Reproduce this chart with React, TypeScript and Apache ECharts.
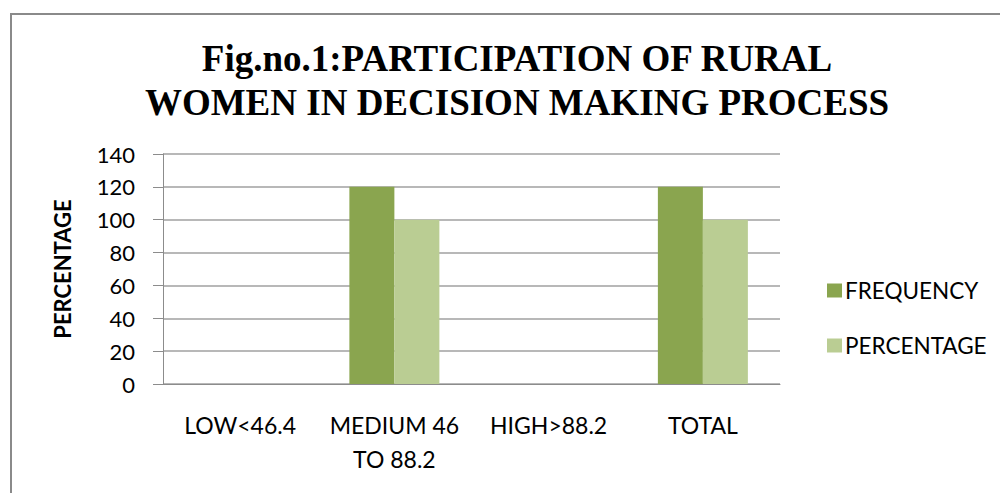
import React, { useEffect, useRef } from "react";
import * as echarts from "echarts";

const categories = ["LOW<46.4", "MEDIUM 46\nTO 88.2", "HIGH>88.2", "TOTAL"];
const frequency = [0, 120, 0, 120];
const percentage = [0, 100, 0, 100];
const seriesNames = ["FREQUENCY", "PERCENTAGE"];
const titleText = "Fig.no.1:PARTICIPATION OF RURAL\nWOMEN IN DECISION MAKING PROCESS";
const yAxisTitle = "PERCENTAGE";

export default function App() {
  const ref = useRef<HTMLDivElement>(null);
  useEffect(() => {
    document.body.style.margin = "0";
    const chart = echarts.init(ref.current!, null, { renderer: "svg" });
    const font = "Lato, 'Open Sans', sans-serif";
    chart.setOption({
      animation: false,
      backgroundColor: "#ffffff",
      graphic: [
        {
          type: "rect",
          shape: { x: 11, y: 14, width: 1000, height: 500 },
          style: { fill: "none", stroke: "#8a8a8a", lineWidth: 2 },
          silent: true,
        },
      ],
      title: {
        text: titleText,
        left: 512,
        textAlign: "center",
        top: 31,
        textStyle: {
          fontFamily: "'Liberation Serif', 'Times New Roman', serif",
          fontWeight: "bold",
          fontSize: 37,
          lineHeight: 44,
          color: "#000",
        },
      },
      legend: {
        orient: "vertical",
        left: 822,
        top: 274,
        itemWidth: 15,
        itemHeight: 14,
        itemGap: 32,
        icon: "rect",
        data: seriesNames,
        textStyle: { fontFamily: font, fontSize: 22.5, color: "#000", padding: [0, 0, 0, -2] },
      },
      grid: { left: 163, right: 220, top: 154, bottom: 109 },
      xAxis: {
        type: "category",
        data: categories,
        axisLine: { show: true, lineStyle: { color: "#8c8c8c", width: 1 } },
        axisTick: { show: false },
        axisLabel: {
          fontFamily: font,
          fontSize: 23,
          color: "#000",
          margin: 24,
          lineHeight: 34,
          interval: 0,
        },
      },
      yAxis: {
        type: "value",
        min: 0,
        max: 140,
        interval: 20,
        name: yAxisTitle,
        nameLocation: "middle",
        nameGap: 90,
        nameRotate: 90,
        nameTextStyle: { fontFamily: font, fontSize: 22, fontWeight: "bold", color: "#000" },
        axisLine: { show: true, lineStyle: { color: "#8c8c8c", width: 1 } },
        axisTick: { show: true, length: 10, lineStyle: { color: "#8c8c8c" } },
        axisLabel: { fontFamily: font, fontSize: 22, color: "#000", margin: 28 },
        splitLine: { show: true, lineStyle: { color: "#a0a0a0", width: 1.5 } },
      },
      series: [
        {
          name: seriesNames[0],
          type: "bar",
          data: frequency,
          barWidth: 45,
          barGap: "0%",
          itemStyle: { color: "#8aa54f" },
        },
        {
          name: seriesNames[1],
          type: "bar",
          data: percentage,
          barWidth: 45,
          itemStyle: { color: "#bacd93" },
        },
      ],
    });
    return () => chart.dispose();
  }, []);
  return <div ref={ref} style={{ width: 1000, height: 493 }} />;
}
